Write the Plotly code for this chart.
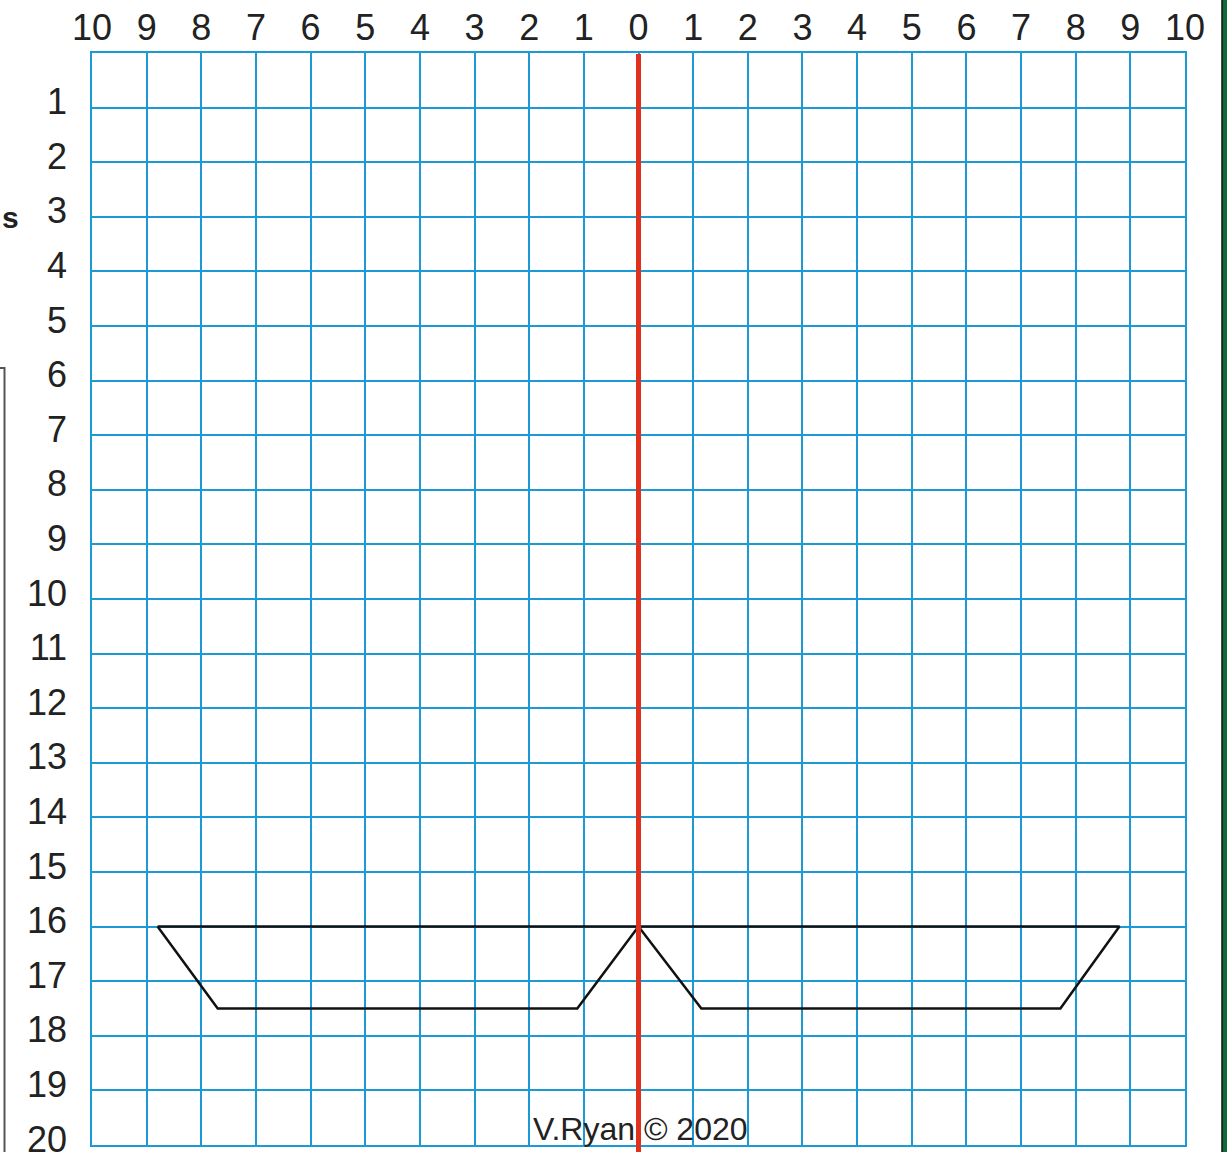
import plotly.graph_objects as go

# Axis ticks and labels
x_ticks = [-10, -9, -8, -7, -6, -5, -4, -3, -2, -1, 0, 1, 2, 3, 4, 5, 6, 7, 8, 9, 10]
x_labels = ["10", "9", "8", "7", "6", "5", "4", "3", "2", "1", "0",
            "1", "2", "3", "4", "5", "6", "7", "8", "9", "10"]
y_ticks = [1, 2, 3, 4, 5, 6, 7, 8, 9, 10, 11, 12, 13, 14, 15, 16, 17, 18, 19, 20]
y_labels = ["1", "2", "3", "4", "5", "6", "7", "8", "9", "10",
            "11", "12", "13", "14", "15", "16", "17", "18", "19", "20"]

# Drawn shape (left half and mirrored right half)
left_x = [-8.8, 0, -1.12, -7.7, -8.8]
left_y = [16, 16, 17.5, 17.5, 16]
right_x = [0, 8.8, 7.72, 1.15, 0]
right_y = [16, 16, 17.5, 17.5, 16]

# Mirror line
mirror_x = [0, 0]

GRID = "#1b9ad6"
FONT = "Liberation Sans, Arial, sans-serif"

W, H = 1227, 1152
L, R, T, B = 92, 42, 53, 7
PW = W - L - R
PH = H - T - B


def px_to_paper_x(px):
    return (px - L) / PW


def px_to_paper_y(py):
    return 1 - (py - T) / PH


fig = go.Figure()

fig.add_trace(go.Scatter(x=left_x, y=left_y, mode="lines",
                         line=dict(color="#111111", width=2.5), hoverinfo="skip",
                         showlegend=False))
fig.add_trace(go.Scatter(x=right_x, y=right_y, mode="lines",
                         line=dict(color="#111111", width=2.5), hoverinfo="skip",
                         showlegend=False))

shapes = [
    # red mirror line extending to bottom edge
    dict(type="line", xref="x", yref="paper", x0=mirror_x[0], x1=mirror_x[1],
         y0=px_to_paper_y(H + 2), y1=px_to_paper_y(54),
         line=dict(color="#e0301e", width=5), layer="above"),
    # left box border (clipped)
    dict(type="path", xref="paper", yref="paper",
         path=f"M {px_to_paper_x(-5)} {px_to_paper_y(368)} L {px_to_paper_x(4.5)} {px_to_paper_y(368)} "
              f"L {px_to_paper_x(4.5)} {px_to_paper_y(H + 5)}",
         line=dict(color="#555555", width=2)),
    # right dark green border
    dict(type="rect", xref="paper", yref="paper",
         x0=px_to_paper_x(1222), x1=px_to_paper_x(1232),
         y0=px_to_paper_y(H + 5), y1=px_to_paper_y(-5),
         fillcolor="#0d6b3a", line=dict(color="#111111", width=1.5)),
]

annotations = [
    dict(text="V.Ryan © 2020", xref="x", yref="paper", x=0.04,
         y=px_to_paper_y(1127), yanchor="middle", showarrow=False,
         font=dict(family=FONT, size=32, color="#222222"), yshift=-2),
    dict(text="<b>s</b>", xref="paper", yref="paper", x=px_to_paper_x(0),
         y=px_to_paper_y(199), xanchor="left", showarrow=False,
         font=dict(family=FONT, size=30, color="#222222")),
]

fig.update_layout(
    width=W, height=H,
    margin=dict(l=L, r=R, t=T, b=B, autoexpand=False),
    paper_bgcolor="white", plot_bgcolor="white",
    shapes=shapes, annotations=annotations,
    showlegend=False,
)

fig.update_xaxes(range=[-10, 10], side="top", tickvals=x_ticks, ticktext=x_labels,
                 showgrid=True, gridcolor=GRID, gridwidth=1.5,
                 showline=True, linecolor=GRID, linewidth=1.5, mirror=True,
                 zeroline=False, ticks="", ticklabelstandoff=-3, automargin=False,
                 ticklabeloverflow="allow",
                 tickfont=dict(family=FONT, size=36, color="#222222"),
                 fixedrange=True)
fig.update_yaxes(range=[20, 0], tickvals=y_ticks, ticktext=y_labels,
                 showgrid=True, gridcolor=GRID, gridwidth=1.5,
                 showline=True, linecolor=GRID, linewidth=1.5, mirror=True,
                 zeroline=False, ticks="", ticklabelstandoff=16, automargin=False,
                 ticklabeloverflow="allow", ticklabelshift=6,
                 tickfont=dict(family=FONT, size=36, color="#222222"),
                 fixedrange=True)

fig.write_html(
    "out.html",
    config={"displayModeBar": False},
    post_script="document.body.style.margin='0';document.body.style.overflow='hidden';",
)
